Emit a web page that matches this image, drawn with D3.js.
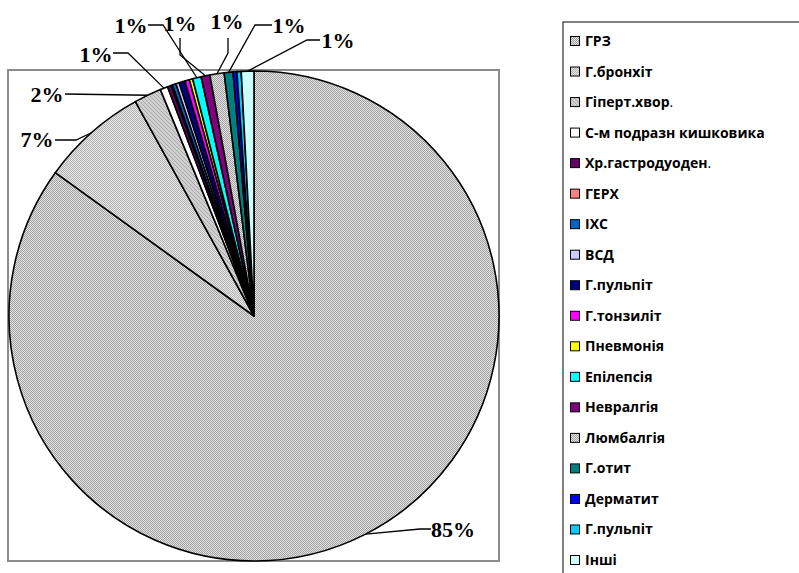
<!DOCTYPE html>
<html><head><meta charset="utf-8">
<script src="https://cdn.jsdelivr.net/npm/d3@7/dist/d3.min.js"></script>
<style>html,body{margin:0;padding:0;background:#fff;}svg{display:block;}</style>
</head><body>
<svg id="chart" width="799" height="573"></svg>
<script>
// ---- data ----
const categories = ["ГРЗ","Г.бронхіт","Гіперт.хвор.","С-м подразн кишковика","Хр.гастродуоден.","ГЕРХ","ІХС","ВСД","Г.пульпіт","Г.тонзиліт","Пневмонія","Епілепсія","Невралгія","Люмбалгія","Г.отит","Дерматит","Г.пульпіт","Інші"];
const values = [84.8, 7.0, 1.8, 0.5, 0.24, 0.1, 0.24, 0.22, 0.39, 0.3, 0.22, 0.56, 0.58, 0.94, 0.58, 0.25, 0.28, 0.83];
const percentLabels = ["85%","7%","2%","1%",null,null,null,null,null,null,null,"1%","1%","1%","1%",null,null,"1%"];
const fills = ["url(#pGRZ)","url(#pBron)","url(#pHyp)","#FFFFFF","#660066","#FF8080","#0066CC","#CCCCFF","#000080","#FF00FF","#FFFF00","#00FFFF","#800080","url(#pGRZ)","#008080","#0000FF","#00CCFF","#CCFFFF"];

// ---- layout ----
const svg = d3.select("#chart");
const cx = 254, cy = 316, R = 245;

const defs = svg.append("defs");
function pix(id, size, bg, dots, col){
  const p = defs.append("pattern").attr("id", id).attr("patternUnits","userSpaceOnUse")
    .attr("width", size).attr("height", size);
  p.append("rect").attr("width", size).attr("height", size).attr("fill", bg);
  dots.forEach(d => p.append("rect").attr("x", d[0]).attr("y", d[1]).attr("width",1).attr("height",1).attr("fill", col));
}
pix("pGRZ", 2, "#e2e2e2", [[0,0],[1,1]], "#a2a2a2");
pix("pBron", 4, "#e6e6e6", [[0,0],[2,0],[0,2],[2,2],[1,1],[3,3],[1,3],[3,1]], "#b4b4b4");
pix("pHyp", 4, "#d0d0d0", [[0,0],[1,1],[2,2],[3,3]], "#a8a8a8");

// plot area
svg.append("rect").attr("x", 8).attr("y", 70).attr("width", 491).attr("height", 491)
  .attr("fill", "#fff").attr("stroke", "#8c8c8c").attr("stroke-width", 2);

const pie = d3.pie().sort(null).value(d => d).startAngle(0).endAngle(2*Math.PI);
const arcs = pie(values);
const arc = d3.arc().innerRadius(0).outerRadius(R);

const g = svg.append("g").attr("transform", `translate(${cx},${cy})`);
g.selectAll("path.slice").data(arcs).enter().append("path")
  .attr("class","slice")
  .attr("d", arc)
  .attr("fill", (d,i) => fills[i])
  .attr("stroke", "#000").attr("stroke-width", 1.6).attr("stroke-linejoin","round");

// percent labels with leader lines
const labelLayout = {
  0:  {tx:453, ty:537, pts:[[431,529],[420,529]]},
  1:  {tx:37,  ty:147, pts:[[55,140],[76,140]]},
  2:  {tx:47,  ty:102, pts:[[65,94]]},
  3:  {tx:96,  ty:62,  pts:[[113,53],[128,53]]},
  11: {tx:131, ty:33,  pts:[[148,25],[163,25]]},
  12: {tx:180, ty:31,  pts:[[180,38],[180,55]]},
  13: {tx:227, ty:29,  pts:[[228,38],[228,53]]},
  14: {tx:289, ty:33,  pts:[[272,25],[255,25]]},
  17: {tx:338, ty:48,  pts:[[320,40],[307,40]]}
};
const line = d3.line();
arcs.forEach((d,i) => {
  if (!percentLabels[i]) return;
  const L = labelLayout[i];
  const a = (d.startAngle + d.endAngle)/2;
  const end = [cx + R*Math.sin(a), cy - R*Math.cos(a)];
  svg.append("path").attr("d", line([...L.pts, end]))
    .attr("fill","none").attr("stroke","#000").attr("stroke-width",1.3);
  svg.append("text").attr("x", L.tx).attr("y", L.ty).attr("text-anchor","middle")
    .attr("font-family","'Liberation Serif','Times New Roman',serif").attr("font-weight","bold")
    .attr("font-size", 22).attr("fill","#000").text(percentLabels[i]);
});

// legend
const lg = svg.append("g");
lg.append("rect").attr("x", 563).attr("y", 22).attr("width", 260).attr("height", 600)
  .attr("fill","#fff").attr("stroke","#000").attr("stroke-width",1);
const rowY = d3.scalePoint().domain(d3.range(categories.length)).range([41, 560]);
categories.forEach((c,i) => {
  const y = rowY(i);
  lg.append("rect").attr("x", 570.5).attr("y", y-4.5).attr("width", 9).attr("height", 9)
    .attr("fill", fills[i]).attr("stroke","#000").attr("stroke-width",1);
  const t = lg.append("text").attr("x", 585).attr("y", y+5)
    .attr("font-family","'Open Sans','Noto Sans',sans-serif").attr("font-size", 14)
    .attr("fill","#000");
  if (c.endsWith(".") && (c.startsWith("Гіперт") || c.startsWith("Хр."))) {
    t.append("tspan").attr("font-weight","bold").text(c.slice(0,-1));
    t.append("tspan").attr("font-weight","normal").text(".");
  } else {
    t.attr("font-weight","bold").text(c);
  }
});
</script>
</body></html>
